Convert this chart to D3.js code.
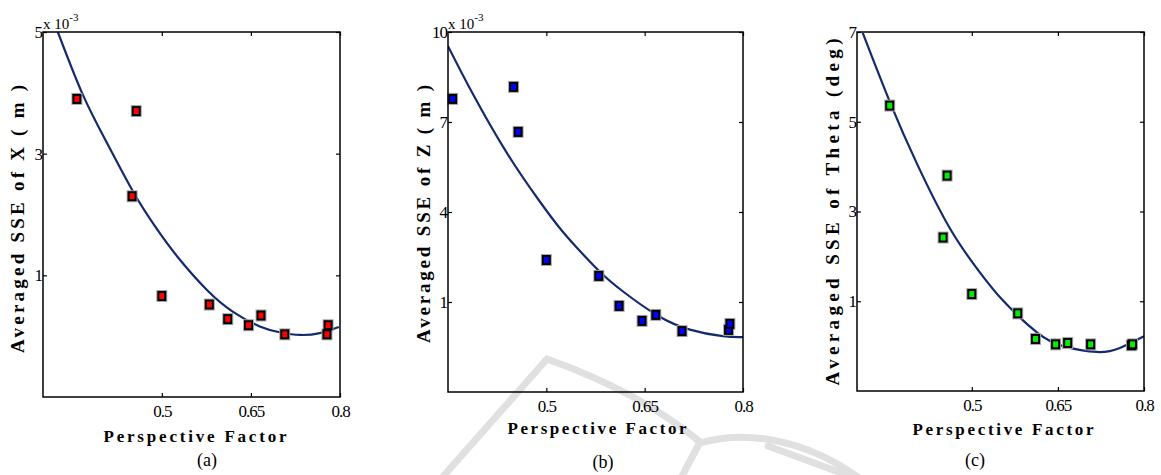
<!DOCTYPE html>
<html>
  <head>
    <script src="https://cdnjs.cloudflare.com/ajax/libs/d3/7.8.5/d3.min.js"></script>
    <style type="text/css">
      body {
        margin: 0;
        padding: 0;
        background: #fff;
      }
      svg text {
        font-family: "Liberation Serif", "Times New Roman", serif;
        fill: #000;
      }
      .tick text {
        font-family: "Liberation Serif", "Times New Roman", serif;
        font-size: 17px;
        letter-spacing: -1px;
      }
      .axis-label {
        font-weight: bold;
      }
    </style>
  </head>
  <body>
    <div id="chart"></div>
    <script type="text/javascript">
    // perspective factor of each run (shared by the 3 panels)
    const perspectiveFactor = [0.357, 0.450, 0.457, 0.500, 0.580, 0.611, 0.646, 0.667, 0.707, 0.778, 0.780];
    // averaged SSE
    const sseX = [3.90, 2.30, 3.70, 0.66, 0.52, 0.28, 0.18, 0.34, 0.03, 0.03, 0.18];      // x10^-3 m
    const sseZ = [7.77, 8.17, 6.67, 2.40, 1.87, 0.87, 0.37, 0.57, 0.03, 0.07, 0.27];      // x10^-3 m
    const sseTheta = [5.36, 2.42, 3.80, 1.16, 0.73, 0.16, 0.04, 0.07, 0.04, 0.02, 0.04];  // deg

    // fitted curves
    const fitXpf = [0.325, 0.367, 0.408, 0.452, 0.489, 0.526, 0.576, 0.620, 0.665, 0.700, 0.733, 0.766, 0.798];
    const fitXval = [5.0, 3.97, 3.17, 2.37, 1.80, 1.31, 0.76, 0.40, 0.16, 0.06, 0.02, 0.05, 0.15];
    const fitZpf = [0.350, 0.388, 0.440, 0.490, 0.521, 0.547, 0.582, 0.617, 0.669, 0.719, 0.769, 0.800];
    const fitZval = [9.53, 7.93, 5.96, 4.35, 3.45, 2.80, 2.00, 1.35, 0.56, 0.08, -0.14, -0.17];
    const fitThetaPf = [0.310, 0.357, 0.405, 0.462, 0.509, 0.554, 0.614, 0.659, 0.718, 0.758, 0.800];
    const fitThetaVal = [6.98, 5.45, 4.05, 2.62, 1.73, 1.02, 0.30, 0.00, -0.13, -0.04, 0.22];

    const xTicks = [0.5, 0.65, 0.8];
    const yTicksX = [1, 3, 5];
    const yTicksZ = [1, 4, 7, 10];
    const yTicksTheta = [1, 3, 5, 7];
    const yLabels = ['Averaged SSE of X ( m )', 'Averaged SSE of Z ( m )', 'Averaged SSE of Theta (deg)'];
    const xLabel = 'Perspective Factor';
    const captions = ['(a)', '(b)', '(c)'];

    const panels = [
      {values: sseX, fitPf: fitXpf, fitVal: fitXval, xDomain: [0.3, 0.8], yDomain: [-1, 5], yTicks: yTicksX,
       color: '#ff0000', exponent: true,
       box: {l: 43, r: 340, t: 32, b: 397}, yLab: [17, 219, 268], xLab: [195, 436, 183], cap: [207, 460]},
      {values: sseZ, fitPf: fitZpf, fitVal: fitZval, xDomain: [0.35, 0.8], yDomain: [-2, 10], yTicks: yTicksZ,
       color: '#0000ff', exponent: true,
       box: {l: 448, r: 743, t: 32, b: 392}, yLab: [423, 214, 258], xLab: [597, 428, 179], cap: [603, 462]},
      {values: sseTheta, fitPf: fitThetaPf, fitVal: fitThetaVal, xDomain: [0.3, 0.8], yDomain: [-1, 7], yTicks: yTicksTheta,
       color: '#00ee00', exponent: false,
       box: {l: 857, r: 1144, t: 32, b: 391}, yLab: [832, 212, 347], xLab: [1003, 429, 181], cap: [975, 460]}
    ];

    const svg = d3.select('#chart')
      .append('svg')
      .attr('width', 1161)
      .attr('height', 475)
      .attr('font-family', '"Liberation Serif", "Times New Roman", serif');

    // faint watermark behind everything
    const wm = svg.append('g')
      .attr('fill', 'none')
      .attr('stroke', '#e0e0e0')
      .attr('stroke-width', 7)
      .attr('stroke-linecap', 'round');
    wm.append('path').attr('d', 'M440,480 L547,359 Q640,392 700,442');
    wm.append('path').attr('d', 'M700,442 L680,480');
    wm.append('path').attr('d', 'M700,443 C745,430 805,438 862,480');
    wm.append('path').attr('d', 'M768,446 L855,478');

    panels.forEach((p, idx) => {
      const w = p.box.r - p.box.l;
      const h = p.box.b - p.box.t;
      const x = d3.scaleLinear().domain(p.xDomain).range([0, w]);
      const y = d3.scaleLinear().domain(p.yDomain).range([h, 0]);

      const g = svg.append('g')
        .attr('transform', `translate(${p.box.l},${p.box.t})`);

      g.append('clipPath')
        .attr('id', `clip-${idx}`)
        .append('rect')
        .attr('width', w)
        .attr('height', h);

      // fitted curve
      const line = d3.line()
        .x((d, i) => x(p.fitPf[i]))
        .y(d => y(d))
        .curve(d3.curveNatural);
      g.append('path')
        .datum(p.fitVal)
        .attr('clip-path', `url(#clip-${idx})`)
        .attr('fill', 'none')
        .attr('stroke', '#142a6c')
        .attr('stroke-width', 2.2)
        .attr('d', line);

      // markers
      const pts = g.append('g');
      pts.selectAll('.halo')
        .data(p.values)
        .enter()
        .append('rect')
        .attr('class', 'halo')
        .attr('x', (d, i) => x(perspectiveFactor[i]) - 5.5)
        .attr('y', d => y(d) - 6)
        .attr('width', 11)
        .attr('height', 12)
        .attr('fill', '#a8a8a8');
      pts.selectAll('.marker')
        .data(p.values)
        .enter()
        .append('rect')
        .attr('class', 'marker')
        .attr('x', (d, i) => x(perspectiveFactor[i]) - 3.5)
        .attr('y', d => y(d) - 4)
        .attr('width', 7)
        .attr('height', 8)
        .attr('fill', p.color)
        .attr('stroke', '#000')
        .attr('stroke-width', 2);

      // axes, MATLAB style ticks pointing inwards
      g.append('g')
        .attr('transform', `translate(0,${h})`)
        .call(d3.axisBottom(x).tickValues(xTicks).tickSizeInner(-4).tickSizeOuter(0).tickPadding(8).tickFormat(d => String(d)))
        .call(a => a.select('.domain').remove());
      g.append('g')
        .call(d3.axisTop(x).tickValues(xTicks).tickSizeInner(-4).tickSizeOuter(0).tickFormat(''))
        .call(a => a.select('.domain').remove());
      g.append('g')
        .call(d3.axisLeft(y).tickValues(p.yTicks).tickSizeInner(-4).tickSizeOuter(0).tickPadding(1).tickFormat(d => String(d)))
        .call(a => a.select('.domain').remove());
      g.append('g')
        .attr('transform', `translate(${w},0)`)
        .call(d3.axisRight(y).tickValues(p.yTicks).tickSizeInner(-4).tickSizeOuter(0).tickFormat(''))
        .call(a => a.select('.domain').remove());
      g.selectAll('.tick line').attr('stroke', '#000').attr('stroke-width', 1.2);
      g.selectAll('.tick text')
        .attr('font-family', '"Liberation Serif", "Times New Roman", serif')
        .attr('font-size', 17)
        .attr('fill', '#000');

      g.append('rect')
        .attr('width', w)
        .attr('height', h)
        .attr('fill', 'none')
        .attr('stroke', '#000')
        .attr('stroke-width', 1.5);

      if (p.exponent) {
        const ex = svg.append('text')
          .attr('x', p.box.l)
          .attr('y', p.box.t - 3)
          .attr('font-size', 15)
          .text('x 10');
        ex.append('tspan')
          .attr('dy', -8)
          .attr('font-size', 11)
          .text('-3');
      }

      svg.append('text')
        .attr('class', 'axis-label')
        .attr('transform', `translate(${p.yLab[0]},${p.yLab[1]}) rotate(-90)`)
        .attr('text-anchor', 'middle')
        .attr('dominant-baseline', 'central')
        .attr('font-size', 19)
        .attr('font-weight', 'bold')
        .attr('textLength', p.yLab[2])
        .attr('lengthAdjust', 'spacing')
        .text(yLabels[idx]);

      svg.append('text')
        .attr('class', 'axis-label')
        .attr('x', p.xLab[0])
        .attr('y', p.xLab[1])
        .attr('text-anchor', 'middle')
        .attr('dominant-baseline', 'central')
        .attr('font-size', 17)
        .attr('font-weight', 'bold')
        .attr('textLength', p.xLab[2])
        .attr('lengthAdjust', 'spacing')
        .text(xLabel);

      svg.append('text')
        .attr('x', p.cap[0])
        .attr('y', p.cap[1])
        .attr('text-anchor', 'middle')
        .attr('dominant-baseline', 'central')
        .attr('font-size', 18)
        .text(captions[idx]);
    });
    </script>
  </body>
</html>
